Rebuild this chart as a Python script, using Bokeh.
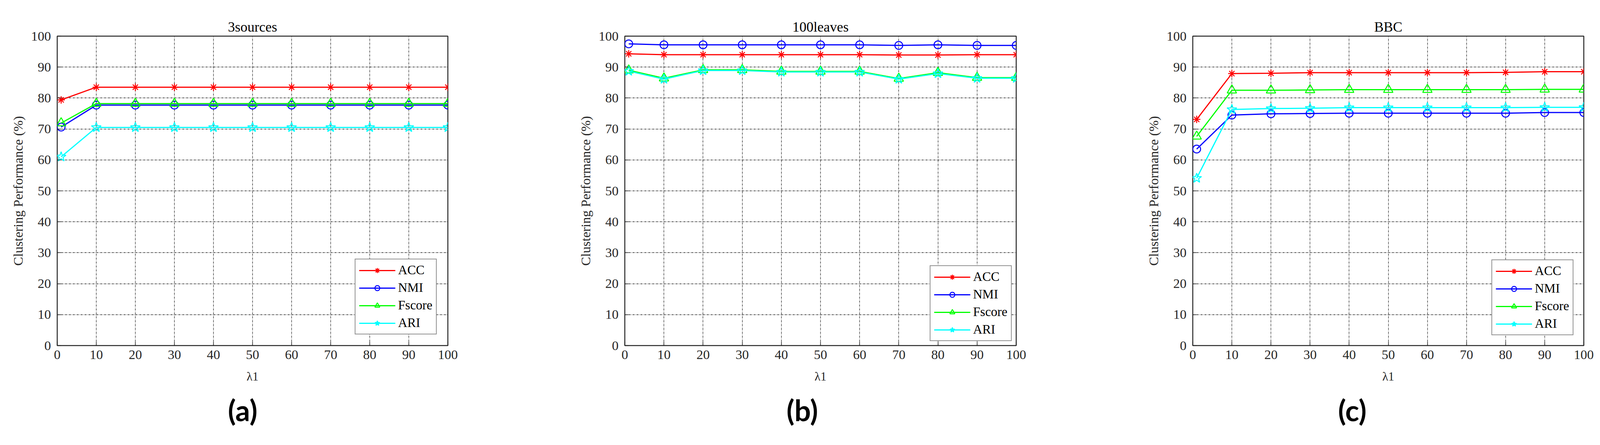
from bokeh.plotting import figure
from bokeh.layouts import row
from bokeh.models import Range1d, FixedTicker, Legend, LegendItem, Title
from bokeh.embed import file_html
from bokeh.resources import INLINE

# ---------------- data ----------------
lam = [1, 10, 20, 30, 40, 50, 60, 70, 80, 90, 100]
ticks = [0, 10, 20, 30, 40, 50, 60, 70, 80, 90, 100]
series_names = ["ACC", "NMI", "Fscore", "ARI"]

src3_acc = [79.4, 83.5, 83.5, 83.5, 83.5, 83.5, 83.5, 83.5, 83.5, 83.5, 83.5]
src3_nmi = [70.6, 77.7, 77.7, 77.7, 77.7, 77.7, 77.7, 77.7, 77.7, 77.7, 77.7]
src3_fscore = [71.9, 78.2, 78.2, 78.2, 78.2, 78.2, 78.2, 78.2, 78.2, 78.2, 78.2]
src3_ari = [61.0, 70.5, 70.5, 70.5, 70.5, 70.5, 70.5, 70.5, 70.5, 70.5, 70.5]

lv_acc = [94.3, 94.0, 94.0, 94.0, 94.0, 94.0, 94.0, 93.9, 93.9, 94.0, 94.0]
lv_nmi = [97.5, 97.2, 97.2, 97.2, 97.2, 97.2, 97.2, 97.0, 97.2, 97.0, 97.0]
lv_fscore = [89.0, 86.4, 89.1, 89.1, 88.6, 88.6, 88.6, 86.3, 88.2, 86.6, 86.6]
lv_ari = [88.7, 86.1, 88.9, 88.9, 88.4, 88.4, 88.4, 86.1, 87.9, 86.4, 86.4]

bbc_acc = [73.1, 87.9, 88.0, 88.2, 88.2, 88.2, 88.2, 88.2, 88.3, 88.5, 88.5]
bbc_nmi = [63.5, 74.5, 74.9, 75.0, 75.1, 75.1, 75.1, 75.1, 75.1, 75.3, 75.3]
bbc_fscore = [67.6, 82.5, 82.5, 82.6, 82.7, 82.7, 82.7, 82.7, 82.7, 82.8, 82.8]
bbc_ari = [54.1, 76.3, 76.6, 76.7, 76.9, 76.9, 76.9, 76.9, 76.9, 77.0, 77.0]

titles = ["3sources", "100leaves", "BBC"]
panel_labels = ["(a)", "(b)", "(c)"]
x_label = "λ1"
y_label = "Clustering Performance (%)"

# ---------------- style ----------------
colors = ["#FF0000", "#0000FF", "#00FF00", "#00FFFF"]
markers = ["asterisk", "circle", "triangle", "star"]
msizes = [19, 20, 24, 26]
SERIF = "Liberation Serif"
AX = "#262626"

panels = [
    dict(data=[src3_acc, src3_nmi, src3_fscore, src3_ari], left=146, right=231, margin=28, loff=437),
    dict(data=[lv_acc, lv_nmi, lv_fscore, lv_ari], left=222, right=153, margin=11, loff=414),
    dict(data=[bbc_acc, bbc_nmi, bbc_fscore, bbc_ari], left=299, right=77, margin=26, loff=372),
]

figs = []
for i, pan in enumerate(panels):
    p = figure(width=1377, height=1123, output_backend="svg", toolbar_location=None,
               x_range=Range1d(0, 100), y_range=Range1d(0, 100),
               min_border_left=pan["left"], min_border_right=pan["right"],
               min_border_top=92, min_border_bottom=239)
    p.background_fill_color = "white"
    p.border_fill_color = "white"
    p.outline_line_color = AX
    p.outline_line_width = 2.5

    p.title.text = titles[i]
    p.title.align = "center"
    p.title.text_font = SERIF
    p.title.text_font_size = "36px"
    p.title.text_font_style = "normal"
    p.title.text_color = "black"
    p.title.standoff = 8

    for ax in (p.xaxis[0], p.yaxis[0]):
        ax.ticker = FixedTicker(ticks=ticks)
        ax.axis_line_color = None
        ax.major_tick_in = 10
        ax.major_tick_out = 0
        ax.major_tick_line_color = AX
        ax.major_tick_line_width = 1.5
        ax.minor_tick_line_color = None
        ax.major_label_text_font = SERIF
        ax.major_label_text_font_size = "34px"
        ax.major_label_text_color = AX
        ax.axis_label_text_font = SERIF
        ax.axis_label_text_font_style = "normal"
        ax.axis_label_text_color = AX
    p.xaxis.axis_label = x_label
    p.xaxis.axis_label_text_font_size = "31px"
    p.xaxis.major_label_standoff = 12
    p.xaxis.axis_label_standoff = 24
    p.yaxis.axis_label = y_label
    p.yaxis.axis_label_text_font_size = "34px"
    p.yaxis.major_label_standoff = 16
    p.yaxis.axis_label_standoff = 12

    for g in p.grid:
        g.grid_line_color = "#1e1e1e"
        g.grid_line_dash = "5 2 1 2"
        g.grid_line_width = 1.3
        g.ticker = FixedTicker(ticks=ticks)

    items = []
    for k, ys in enumerate(pan["data"]):
        ln = p.line(lam, ys, line_color=colors[k], line_width=3)
        sc = p.scatter(lam, ys, marker=markers[k], size=msizes[k], line_color=colors[k],
                       fill_color=None, line_width=2.5)
        items.append(LegendItem(label=series_names[k], renderers=[ln, sc]))

    leg = Legend(items=items, location="bottom_right")
    leg.margin = pan["margin"]
    leg.padding = 9
    leg.spacing = 8
    leg.glyph_width = 93
    leg.glyph_height = 32
    leg.label_height = 32
    leg.label_standoff = 7
    leg.label_text_font = SERIF
    leg.label_text_font_size = "33px"
    leg.label_text_color = "black"
    leg.border_line_color = AX
    leg.border_line_width = 2.5
    leg.background_fill_color = "white"
    leg.background_fill_alpha = 1.0
    p.add_layout(leg, "center")

    lab = Title(text=panel_labels[i], align="left", offset=pan["loff"], vertical_align="top",
                standoff=42, text_font="Lato", text_font_style="bold",
                text_font_size="74px", text_color="black")
    p.add_layout(lab, "below")
    figs.append(p)

layout = row(*figs)
open("out.html", "w").write(file_html(layout, INLINE))
